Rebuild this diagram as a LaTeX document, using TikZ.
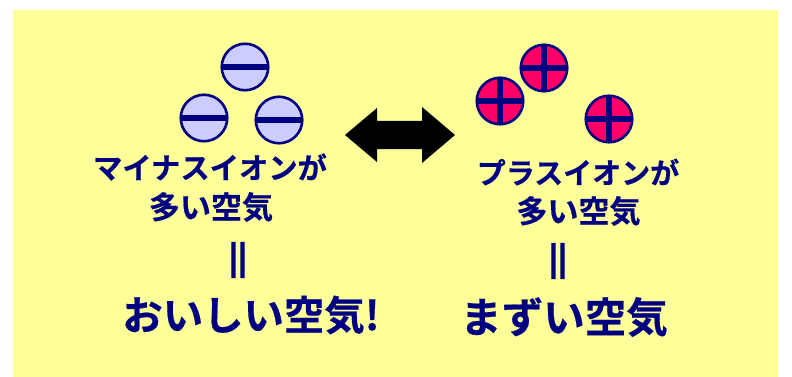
\documentclass[tikz,border=0pt]{standalone}
\usepackage{fontspec}
\newfontfamily\cjk{Noto Sans CJK JP}[BoldFont={Noto Sans CJK JP Bold},BoldFeatures={FakeBold=0.5}]
\newfontfamily\cjkbar{Noto Sans CJK JP}[BoldFont={Noto Sans CJK JP Bold},BoldFeatures={FakeBold=4}]
\definecolor{bgyellow}{RGB}{255,255,153}
\definecolor{navy}{RGB}{0,0,128}
\definecolor{minusfill}{RGB}{204,204,255}
\definecolor{plusfill}{RGB}{255,0,102}
\tikzset{
  ion/.style={circle,draw=navy,line width=2.6pt,minimum size=46.5pt,inner sep=0pt},
  minusion/.style={ion,fill=minusfill},
  plusion/.style={ion,fill=plusfill},
  bar/.style={draw=navy,line width=5.2pt,shorten >=1pt,shorten <=1pt},
  label/.style={text=navy,font=\cjk\bfseries,inner sep=0pt,align=center},
  midlabel/.style={label,font=\cjk\bfseries\fontsize{29.3}{40}\selectfont},
  sublabel/.style={label,font=\cjk\bfseries\fontsize{31}{40}\selectfont},
  barlabel/.style={label,font=\cjkbar\bfseries\fontsize{31}{40}\selectfont},
  biglabel/.style={label,font=\cjk\bfseries\fontsize{40.4}{46}\selectfont},
}
\begin{document}
\begin{tikzpicture}[x=1pt,y=-1pt]
\useasboundingbox (0,0) rectangle (792,377);
\fill[bgyellow] (13,10) rectangle (778,377);
\foreach \n/\x/\y in {a/245/67,b/204/118,c/279/120}{
  \node[minusion] (\n) at (\x,\y) {};
  \draw[bar] (\n.west) -- (\n.east);
}
\foreach \n/\x/\y in {d/544/68,e/500/101,f/609/119}{
  \node[plusion] (\n) at (\x,\y) {};
  \draw[bar] (\n.west) -- (\n.east);
  \draw[bar] (\n.north) -- (\n.south);
}
\fill[black] (345,135) -- (377,108) -- (377,121) -- (422,121) -- (422,107) -- (455,135) -- (422,163) -- (422,149) -- (377,149) -- (377,162) -- cycle;
\node[midlabel] (t1) at (210,167) {マイナスイオンが};
\node[sublabel] (t2) at (211,207) {多い空気};
\node[barlabel] (t3) at (238,260) {||};
\node[biglabel] (t4) at (251,315) {おいしい空気!};
\node[midlabel,font=\cjk\bfseries\fontsize{29}{40}\selectfont] (t5) at (578,172) {プラスイオンが};
\node[sublabel] (t6) at (578.5,211) {多い空気};
\node[barlabel] (t7) at (558,261) {||};
\node[biglabel,font=\cjk\bfseries\fontsize{41.5}{46}\selectfont] (t8) at (564,317) {まずい空気};
\end{tikzpicture}
\end{document}
